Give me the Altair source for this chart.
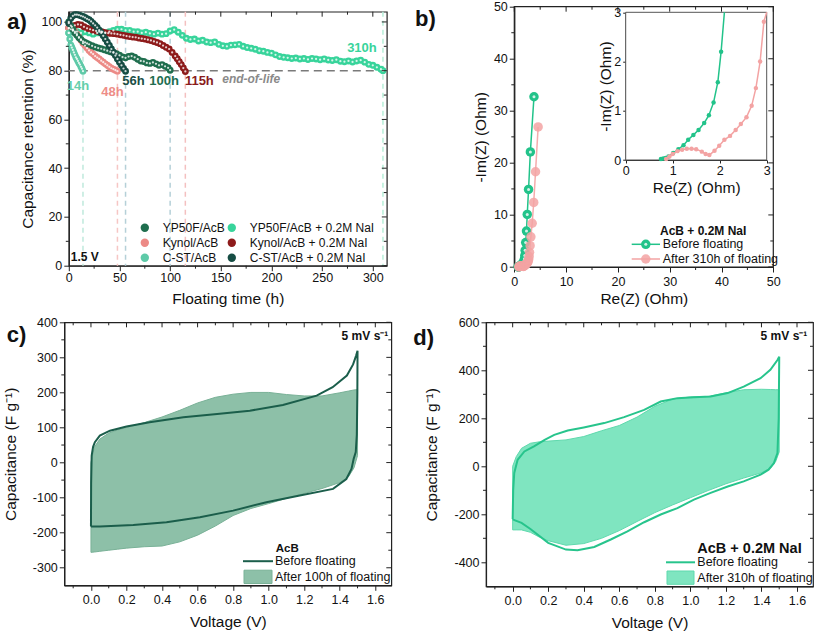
import altair as alt
import pandas as pd

FONT = "Liberation Sans"
ONE = pd.DataFrame({"k": [0]})
HYPHEN = "replace(datum.label, '\u2212', '-')"

# ======================= panel a data =======================
series_names = ["YP50F/AcB", "Kynol/AcB", "C-ST/AcB",
                "YP50F/AcB + 0.2M NaI", "Kynol/AcB + 0.2M NaI", "C-ST/AcB + 0.2M NaI"]
series_colors = ["#1f6e4e", "#ec8a86", "#5ecaa8", "#38d49b", "#8e1b1b", "#164d44"]

yp50f_t = [0, 2, 4, 6, 8, 10, 12, 14, 16, 18, 20, 23, 26, 29, 32, 35, 38, 41, 44, 47,
           50, 53, 56, 59, 62, 65, 68, 71, 74, 77, 80, 83, 86, 89, 92, 95, 98, 100]
yp50f_v = [100, 98.5, 97, 95.5, 94.5, 93.5, 92.8, 92, 91.6, 91.2, 90.8, 90.2, 89.7, 89.3, 89, 88.6, 88.2, 87.8, 87.4, 87,
           86.3, 85.6, 85.3, 85.8, 86, 85.5, 84.7, 84, 83.8, 83.2, 83, 83.4, 82.8, 82.2, 82.5, 81.8, 81.2, 80.2]

kynol_t = [0, 2, 4, 6, 8, 10, 12, 14, 16, 18, 20, 22, 24, 26, 28, 30, 32, 34, 36, 38, 40, 42, 44, 46, 48]
kynol_v = [97.5, 97, 96.5, 96, 95, 93.8, 92.5, 91.3, 90.3, 89.3, 88.3, 87.5, 86.8, 86, 85.4, 84.8, 84.1, 83.5,
           82.8, 82.2, 81.6, 81, 80.6, 80.2, 79.8]

cst_t = [0, 1, 2, 3, 4, 5, 6, 7, 8, 9, 10, 11, 12, 13, 14]
cst_v = [95.5, 93, 90.5, 89.5, 88.5, 87.5, 86.5, 85.5, 84.8, 84, 83.2, 82.5, 81.6, 80.8, 79.8]

yp50f_nai_t = [0, 4, 8, 12, 16, 20, 24, 28, 32, 36, 40, 44, 48, 52, 56, 60, 64, 68, 72, 76,
               80, 84, 88, 92, 96, 100, 104, 108, 112, 116, 120, 124, 128, 132, 136, 140, 144, 148, 152, 156,
               160, 164, 168, 172, 176, 180, 184, 188, 192, 196, 200, 204, 208, 212, 216, 220, 224, 228, 232, 236,
               240, 244, 248, 252, 256, 260, 264, 268, 272, 276, 280, 284, 288, 292, 296, 300, 304, 308, 310]
yp50f_nai_v = [95.5, 96.5, 96, 95.5, 96, 95.5, 95, 95.5, 96, 95.5,
               96, 96.5, 97, 97, 96.5, 96.5, 96, 96, 95.5, 95.8,
               95.3, 95, 95.4, 95, 95.2, 96.3, 96.8, 95.8, 94.5, 93.3,
               92.8, 93, 92.2, 92.5, 91.8, 91.5, 91.8, 90.8, 90.2, 90,
               90.5, 90.6, 90.8, 90, 89.5, 89.2, 88.8, 88.2, 88, 87.5,
               87.2, 86.5, 85.8, 85.5, 85.3, 85, 85.2, 84.8, 85, 84.6,
               85, 84.8, 84.5, 84.8, 84.4, 84.2, 84.5, 83.9, 83.7, 84,
               83.6, 84, 84.3, 83.5, 82.6, 82.2, 81.4, 80.6, 80]

kynol_nai_t = [0, 3, 6, 9, 12, 15, 18, 21, 24, 27, 30, 33, 36, 39, 42, 45, 48, 51, 54, 57,
               60, 63, 66, 69, 72, 75, 78, 81, 84, 87, 90, 93, 96, 99, 102, 105, 107, 109, 111, 113, 115]
kynol_nai_v = [97.5, 98, 98.6, 99, 98.8, 98, 97.4, 97, 96.6, 96.3, 96, 95.9, 95.6, 95.4, 95.3, 95.2, 95, 94.7, 94.5, 94.2,
               94, 93.8, 93.7, 93.4, 93.2, 93, 92.7, 92.4, 92, 91.6, 91.1, 90.3, 89.6, 88.9, 87.5, 86, 84.9, 83.7,
               82.5, 81.1, 79.7]

cst_nai_t = [0, 2, 4, 6, 8, 10, 12, 14, 16, 18, 20, 22, 24, 26, 28, 30, 32, 34, 36, 38,
             40, 42, 44, 46, 48, 50, 52, 54, 56]
cst_nai_v = [99.5, 101.5, 102.5, 103, 103, 102.8, 102.5, 102.2, 101.8, 101.3, 100.9, 100.2, 99.4, 98.6, 97.7,
             96.6, 95.5, 94.3, 93, 91.7, 90.3, 88.9, 87.6, 86.2, 84.8, 83.5, 82.2, 80.9, 79.8]

a_times = [yp50f_t, kynol_t, cst_t, yp50f_nai_t, kynol_nai_t, cst_nai_t]
a_values = [yp50f_v, kynol_v, cst_v, yp50f_nai_v, kynol_nai_v, cst_nai_v]

eol_times = [14, 48, 56, 100, 115, 310]
eol_labels = ["14h", "48h", "56h", "100h", "115h", "310h"]
eol_label_colors = ["#66cfac", "#ee8d88", "#1b4f46", "#216d50", "#8a1c1c", "#38d49b"]
eol_line_colors = ["#bfe9dc", "#f6c6c4", "#b5d0d8", "#b5d0d8", "#f4c0c0", "#b8efd9"]
eol_label_offsets = [(-5, 15.5), (-5, 21), (8, 10.5), (-6, 10.5), (14, 10.5), (-21, -22.5)]

a_xticks = [0, 50, 100, 150, 200, 250, 300]
a_xminor = [25, 75, 125, 175, 225, 275]
a_yticks = [0, 20, 40, 60, 80, 100]
a_yminor = [10, 30, 50, 70, 90]

# ======================= panel b data =======================
b_before_re = [0.75, 0.80, 0.85, 0.91, 1.01, 1.12, 1.23, 1.33, 1.44, 1.55,
               1.67, 1.77, 1.87, 1.96, 2.03, 2.10, 2.20, 2.35, 2.50, 2.75, 3.10, 3.80]
b_before_im = [0.02, 0.03, 0.04, 0.07, 0.14, 0.22, 0.30, 0.41, 0.51, 0.61,
               0.75, 0.91, 1.17, 1.58, 2.20, 3.20, 4.70, 6.90, 10.1, 14.9, 22.1, 32.7]
b_after_re = [0.86, 0.93, 1.00, 1.10, 1.20, 1.30, 1.40, 1.50, 1.62, 1.70,
              1.78, 1.89, 1.99, 2.10, 2.22, 2.34, 2.45, 2.57, 2.68, 2.77,
              2.86, 2.94, 3.05, 3.20, 3.45, 3.75, 4.10, 4.60]
b_after_im = [0.02, 0.07, 0.12, 0.18, 0.21, 0.23, 0.23, 0.22, 0.17, 0.12,
              0.10, 0.19, 0.29, 0.41, 0.49, 0.61, 0.73, 0.87, 1.10, 1.46,
              2.00, 2.81, 4.10, 5.80, 8.40, 12.4, 18.3, 26.9]
b_ticks = [0, 10, 20, 30, 40, 50]
b_minor = [5, 15, 25, 35, 45]
inset_ticks = [0, 1, 2, 3]

# ======================= panel c / d data =======================
cv_grid = [0, 0.02, 0.05, 0.1, 0.15, 0.2, 0.3, 0.4, 0.5, 0.6, 0.7, 0.8, 0.9, 1.0, 1.1, 1.2, 1.3, 1.4, 1.45, 1.48, 1.5]
c_after_up = [0, 45, 67, 84, 93, 100, 114, 130, 149, 170, 186, 195, 200, 200, 194, 190, 190, 199, 204, 207, 208]
c_after_lo = [-256, -255, -253, -250, -247, -244, -240, -238, -226, -207, -181, -151, -131, -117, -102, -88, -74, -57,
              -40, -15, 20]
c_before_v = [0, 0.001, 0.004, 0.012, 0.022, 0.05, 0.107, 0.2, 0.33, 0.52,
              0.71, 0.894, 1.08, 1.27, 1.36, 1.44, 1.475, 1.492, 1.5, 1.499,
              1.496, 1.49, 1.478, 1.466, 1.437, 1.362, 1.175, 0.987, 0.8, 0.613,
              0.425, 0.238, 0.05, 0.01, 0]
c_before_c = [-182, -60, 20, 45, 58, 77, 91, 103, 115, 129,
              138.5, 148, 164, 191, 215, 248, 280, 305, 319, 200,
              80, 30, 10, -18, -47, -75, -94, -113, -137, -156,
              -170, -178, -182, -182, -182]

d_after_up = [0, 40, 75, 96, 102, 105, 110, 124, 148, 170, 205, 250, 280, 289, 291, 306, 319, 321, 320, 319, 319]
d_after_lo = [-265, -265, -265, -275, -295, -310, -329, -322, -300, -268, -230, -193, -161, -131, -101, -73, -49, -27,
              -8, 20, 60]
d_before_v = [0, 0.003, 0.009, 0.028, 0.066, 0.12, 0.18, 0.234, 0.31, 0.4,
              0.515, 0.627, 0.74, 0.833, 0.927, 1.02, 1.114, 1.21, 1.3, 1.395,
              1.45, 1.49, 1.5, 1.497, 1.49, 1.47, 1.44, 1.395, 1.3, 1.21,
              1.114, 1.02, 0.927, 0.833, 0.74, 0.646, 0.552, 0.459, 0.365, 0.3,
              0.2, 0.1, 0.05, 0.01, 0]
d_before_c = [-220, -100, -28, 27, 62, 83, 110, 131, 149, 162,
              180, 205, 235, 270, 284, 288, 291, 305, 332, 367,
              402, 443, 457, 200, 55, 13, -14, -35, -63, -84,
              -111, -139, -174, -201, -233, -271, -305, -336, -350, -347,
              -319, -261, -236, -224, -220]

cv_xticks = [0.0, 0.2, 0.4, 0.6, 0.8, 1.0, 1.2, 1.4, 1.6]
cv_xminor = [-0.1, 0.1, 0.3, 0.5, 0.7, 0.9, 1.1, 1.3, 1.5]
c_yticks = [-300, -200, -100, 0, 100, 200, 300, 400]
c_yminor = [-250, -150, -50, 50, 150, 250, 350]
d_yticks = [-400, -200, 0, 200, 400, 600]
d_yminor = [-300, -100, 100, 300, 500]

# ======================= helpers =======================
TICK = "#222"


def tick_layers(xs, ys, xax, yax, xmaj, xmin, ymaj, ymin, x0, x1, y0, y1):
    def rx(vals, ya, yb):
        return alt.Chart(pd.DataFrame({"tv": vals})).mark_rule(color=TICK, strokeWidth=1).encode(
            x=alt.X("tv:Q", scale=xs, axis=xax), y=alt.value(ya), y2=alt.value(yb))

    def ry(vals, xa, xb):
        return alt.Chart(pd.DataFrame({"tv": vals})).mark_rule(color=TICK, strokeWidth=1).encode(
            y=alt.Y("tv:Q", scale=ys, axis=yax), x=alt.value(xa), x2=alt.value(xb))

    return [rx(xmaj, y0, y0 + 5), rx(xmin, y0, y0 + 3), rx(xmin, y1, y1 + 3),
            ry(ymaj, x1, x1 - 5), ry(ymin, x1, x1 - 3), ry(ymin, x0, x0 - 3)]


def txt(s, x, y, size=12, weight="normal", align="left", color="#111"):
    return alt.Chart(ONE).mark_text(text=s, fontSize=size, fontWeight=weight, align=align,
                                    baseline="middle", color=color, font=FONT).encode(
        x=alt.value(x), y=alt.value(y))


def hrule(x_a, x_b, y, color, w):
    return alt.Chart(ONE).mark_rule(color=color, strokeWidth=w).encode(
        x=alt.value(x_a), x2=alt.value(x_b), y=alt.value(y))


def box(x_a, x_b, y_a, y_b, fill, stroke):
    return alt.Chart(ONE).mark_rect(fill=fill, stroke=stroke, strokeWidth=1).encode(
        x=alt.value(x_a), x2=alt.value(x_b), y=alt.value(y_a), y2=alt.value(y_b))


# ======================= panel a =======================
A_W, A_H = 318, 254
a_xs = alt.Scale(domain=[0, 313.8], nice=False, zero=False)
a_ys = alt.Scale(domain=[0, 104.2], nice=False, zero=False)
a_xax = alt.Axis(values=a_xticks, title="Floating time (h)", labelPadding=1, titlePadding=7)
a_yax = alt.Axis(values=a_yticks, title="Capacitance retention (%)", labelPadding=2, titlePadding=5.5)

draw_order = [3, 4, 1, 2, 0, 5]
a_df = pd.concat([pd.DataFrame({"series": series_names[i], "t": a_times[i], "v": a_values[i]})
                  for i in draw_order], ignore_index=True)

a_layers = [
    alt.Chart(pd.DataFrame({"t": eol_times, "c": eol_line_colors})).mark_rule(
        strokeDash=[5, 4], strokeWidth=1.5).encode(
        x=alt.X("t:Q", scale=a_xs, axis=a_xax), stroke=alt.Stroke("c:N", scale=None)),
    alt.Chart(pd.DataFrame({"v": [80]})).mark_rule(strokeDash=[8, 5], strokeWidth=1.5, color="#7a7a7a").encode(
        y=alt.Y("v:Q", scale=a_ys, axis=a_yax)),
    alt.Chart(a_df).mark_circle(size=48, opacity=1).encode(
        x=alt.X("t:Q", scale=a_xs, axis=a_xax),
        y=alt.Y("v:Q", scale=a_ys, axis=a_yax),
        color=alt.Color("series:N", scale=alt.Scale(domain=series_names, range=series_colors),
                        legend=alt.Legend(orient="none", legendX=70, legendY=210, columns=2, title=None,
                                          symbolType="circle", symbolSize=70, labelFontSize=12,
                                          labelFont=FONT, labelOffset=12, columnPadding=-2, rowPadding=3,
                                          symbolStrokeWidth=0, symbolOpacity=1, padding=0,
                                          labelColor="#111"))),
    alt.Chart(a_df).mark_circle(size=5, color="white", opacity=0.8).encode(
        x=alt.X("t:Q", scale=a_xs, axis=a_xax), y=alt.Y("v:Q", scale=a_ys, axis=a_yax)),
]
for t, lab, col, (dx, dy) in zip(eol_times, eol_labels, eol_label_colors, eol_label_offsets):
    a_layers.append(alt.Chart(ONE).mark_text(text=lab, color=col, fontSize=13, fontWeight="bold",
                                             dx=dx, dy=dy, font=FONT).encode(
        x=alt.XDatum(t, scale=a_xs, axis=a_xax), y=alt.YDatum(80, scale=a_ys, axis=a_yax)))
a_layers.append(alt.Chart(ONE).mark_text(text="end-of-life", color="#8a8a8a", fontSize=12, fontWeight="bold",
                                         fontStyle="italic", dy=8, font=FONT).encode(
    x=alt.XDatum(180, scale=a_xs, axis=a_xax), y=alt.YDatum(80, scale=a_ys, axis=a_yax)))
a_layers.append(alt.Chart(ONE).mark_text(text="1.5 V", color="#111", fontSize=12, fontWeight="bold",
                                         align="left", font=FONT).encode(
    x=alt.XDatum(2, scale=a_xs, axis=a_xax), y=alt.YDatum(3.5, scale=a_ys, axis=a_yax)))
a_layers.append(txt("a)", -61.5, 10, size=22, weight="bold"))
a_layers += tick_layers(a_xs, a_ys, a_xax, a_yax, a_xticks, a_xminor, a_yticks, a_yminor, 0, A_W, 0, A_H)
panel_a = alt.layer(*a_layers).properties(width=A_W, height=A_H)

# ======================= panel b =======================
B_W, B_GH, B_H = 327, 264, 260.3     # view width, view height, plot height
BX0, BX1 = 28.3, 287.3
IX0, IX1 = 139.7, 280.7
IY0, IY1 = 153.3, 5.6
GREEN_B = "#22c38a"
PINK_B = "#f3a3a3"

b_xs = alt.Scale(domain=[0, 50], range=[BX0, BX1], nice=False, zero=False)
b_ys = alt.Scale(domain=[0, 50], range=[B_H, 0], nice=False, zero=False)
b_xax = alt.Axis(values=b_ticks, title="Re(Z) (Ohm)", offset=-(B_GH - B_H), labelPadding=3, titlePadding=4)
b_yax = alt.Axis(values=b_ticks, title="-Im(Z) (Ohm)", offset=-BX0, labelPadding=2, titlePadding=5)
in_xs = alt.Scale(domain=[0, 3], range=[IX0, IX1], nice=False, zero=False, clamp=True)
in_ys = alt.Scale(domain=[0, 3], range=[IY0, IY1], nice=False, zero=False, clamp=True)
in_xax = alt.Axis(orient="bottom", offset=-(B_GH - IY0), values=inset_ticks, title="Re(Z) (Ohm)", tickSize=3,
                  labelPadding=1, titlePadding=4)
in_yax = alt.Axis(orient="left", offset=-IX0, values=inset_ticks, title="-Im(Z) (Ohm)", tickSize=3,
                  labelPadding=2, titlePadding=0)

b_before = pd.DataFrame({"re": b_before_re, "im": b_before_im, "i": range(len(b_before_re))})
b_after = pd.DataFrame({"re": b_after_re, "im": b_after_im, "i": range(len(b_after_re))})


def upto_exit(df):
    keep = []
    for k in range(len(df)):
        keep.append(k)
        if df["re"].iloc[k] > 3 or df["im"].iloc[k] > 3:
            break
    return df.iloc[keep]


def bx(field="re:Q"):
    return alt.X(field, scale=b_xs, axis=b_xax)


def by(field="im:Q"):
    return alt.Y(field, scale=b_ys, axis=b_yax)


main_layers = [
    alt.Chart(ONE).mark_rect(fillOpacity=0, stroke="#222", strokeWidth=1.2).encode(
        x=alt.XDatum(0, scale=b_xs, axis=b_xax), x2=alt.datum(50),
        y=alt.YDatum(0, scale=b_ys, axis=b_yax), y2=alt.datum(50)),
    alt.Chart(b_before).mark_line(color=GREEN_B, strokeWidth=1.5).encode(x=bx(), y=by(), order="i:Q"),
    alt.Chart(b_before).mark_circle(color=GREEN_B, size=90, opacity=1).encode(x=bx(), y=by()),
    alt.Chart(b_before).mark_circle(color="white", size=9, opacity=0.8).encode(x=bx(), y=by()),
    alt.Chart(b_after).mark_line(color=PINK_B, strokeWidth=1.5, opacity=0.9).encode(x=bx(), y=by(), order="i:Q"),
    alt.Chart(b_after).mark_circle(color=PINK_B, size=90, opacity=0.85).encode(x=bx(), y=by()),
    # legend
    txt("AcB + 0.2M NaI", 174, 224.1, size=12, weight="bold"),
    hrule(145.7, 174, 237.6, GREEN_B, 1.5),
    alt.Chart(ONE).mark_circle(color=GREEN_B, size=90, opacity=1).encode(x=alt.value(159.8), y=alt.value(237.6)),
    alt.Chart(ONE).mark_circle(color="white", size=9, opacity=0.8).encode(x=alt.value(159.8), y=alt.value(237.6)),
    txt("Before floating", 176.7, 237.6, size=12.5),
    hrule(145.7, 174, 252.3, PINK_B, 1.5),
    alt.Chart(ONE).mark_circle(color=PINK_B, size=90, opacity=0.85).encode(x=alt.value(159.8), y=alt.value(252.3)),
    txt("After 310h of floating", 176.7, 252.3, size=12.5),
    txt("b)", -71, 12.5, size=22, weight="bold"),
]
main_layers += tick_layers(b_xs, b_ys, b_xax, b_yax, b_ticks, b_minor, b_ticks, b_minor, BX0, BX1, 0, B_H)
main_layer = alt.layer(*main_layers)

in_before = upto_exit(b_before)
in_after = upto_exit(b_after)
inside = "datum.re <= 3 && datum.im <= 3"


def ix():
    return alt.X("re:Q", scale=in_xs, axis=in_xax)


def iy():
    return alt.Y("im:Q", scale=in_ys, axis=in_yax)


inset_layers = [
    alt.Chart(ONE).mark_rect(fill="white", stroke="#555", strokeWidth=1).encode(
        x=alt.XDatum(0, scale=in_xs, axis=in_xax), x2=alt.datum(3),
        y=alt.YDatum(0, scale=in_ys, axis=in_yax), y2=alt.datum(3)),
    alt.Chart(in_before).mark_line(color=GREEN_B, strokeWidth=1.5).encode(x=ix(), y=iy(), order="i:Q"),
    alt.Chart(in_before).transform_filter(inside).mark_circle(color=GREEN_B, size=20, opacity=1).encode(
        x=ix(), y=iy()),
    alt.Chart(in_after).mark_line(color=PINK_B, strokeWidth=1.5).encode(x=ix(), y=iy(), order="i:Q"),
    alt.Chart(in_after).transform_filter(inside).mark_circle(color=PINK_B, size=20, opacity=1).encode(
        x=ix(), y=iy()),
]
inset_layer = alt.layer(*inset_layers)

panel_b = alt.layer(main_layer, inset_layer).resolve_scale(x="independent", y="independent").properties(
    width=B_W, height=B_GH, view=alt.ViewBackground(stroke="transparent"))


# ======================= panel c / d =======================
def cv_panel(W, H, ydom, yticks, yminor, up, lo, bv, bc, fill, fstroke, lcolor, leg_title, leg_title_size,
             after_label, label, lab_xy, rate_xy, leg):
    xs = alt.Scale(domain=[-0.15, 1.69], nice=False, zero=False)
    ys = alt.Scale(domain=ydom, nice=False, zero=False)
    xax = alt.Axis(values=cv_xticks, format=".1f", title="Voltage (V)", labelPadding=3, titlePadding=9)
    yax = alt.Axis(values=yticks, format="d", labelExpr=HYPHEN, title="Capacitance (F g⁻¹)",
                   labelPadding=2, titlePadding=14)
    adf = pd.DataFrame({"v": cv_grid, "up": up, "lo": lo})
    bdf = pd.DataFrame({"v": bv, "c": bc, "i": range(len(bv))})
    layers = [
        alt.Chart(adf).mark_area(fill=fill, stroke=fstroke, strokeWidth=1, fillOpacity=1).encode(
            x=alt.X("v:Q", scale=xs, axis=xax), y=alt.Y("up:Q", scale=ys, axis=yax), y2="lo:Q"),
        alt.Chart(bdf).mark_line(color=lcolor, strokeWidth=2).encode(
            x=alt.X("v:Q", scale=xs, axis=xax), y=alt.Y("c:Q", scale=ys, axis=yax), order="i:Q"),
        txt("5 mV s⁻¹", rate_xy[0], rate_xy[1], size=12, weight="bold", align="right"),
        txt(leg_title, leg["tx"], leg["ty"], size=leg_title_size, weight="bold"),
        hrule(leg["lx0"], leg["lx1"], leg["ly"], lcolor, 2),
        txt("Before floating", leg["tx2"], leg["ly"], size=12.5),
        box(leg["lx0"] + 1, leg["lx1"] - 1, leg["ry0"], leg["ry1"], fill, fstroke),
        txt(after_label, leg["tx2"], (leg["ry0"] + leg["ry1"]) / 2, size=12.5),
        txt(label, lab_xy[0], lab_xy[1], size=22, weight="bold"),
    ]
    layers += tick_layers(xs, ys, xax, yax, cv_xticks, cv_xminor, yticks, yminor, 0, W, 0, H)
    return alt.layer(*layers).properties(width=W, height=H)


panel_c = cv_panel(327, 263, [-350, 400], c_yticks, c_yminor, c_after_up, c_after_lo, c_before_v, c_before_c,
                   "#8dc0a8", "#79b197", "#1b5e4b", "AcB", 11.5, "After 100h of floating", "c)",
                   (-57.6, 12.2), (324, 13.2),
                   dict(tx=211.5, ty=226.2, lx0=178.7, lx1=208.7, ly=238.9, tx2=210.7, ry0=247.9, ry1=261.2))
panel_d = cv_panel(327, 264, [-500, 600], d_yticks, d_yminor, d_after_up, d_after_lo, d_before_v, d_before_c,
                   "#7fe5c0", "#5fd9ad", "#27c48c", "AcB + 0.2M NaI", 14.5, "After 310h of floating", "d)",
                   (-72.7, 15.7), (321.3, 13.5),
                   dict(tx=211.3, ty=226.4, lx0=180, lx1=209, ly=240, tx2=211.3, ry0=248.7, ry1=262))

# ======================= assemble =======================
chart = alt.concat(panel_a, panel_b, panel_c, panel_d, columns=2,
                   spacing={"row": 51.6, "column": 94.7}, bounds="flush", center=True
                   ).resolve_scale(color="independent").properties(
    autosize=alt.AutoSizeParams(type="none"),
    padding={"left": 64.3, "top": 6.7, "right": 817 - 64.3, "bottom": 634 - 6.7},
).configure_view(stroke="#222", strokeWidth=1.2).configure_axis(
    labelFont=FONT, titleFont=FONT, labelFontSize=12.5, titleFontSize=15.5, titleFontWeight="normal",
    labelColor="#111", titleColor="#111", domainColor="#222", tickColor="#222", grid=False,
    tickSize=5, labelFlush=False, labelOverlap=False, domainWidth=1.2
).configure_text(font=FONT).configure_legend(labelFont=FONT)

chart.save("out.html", embed_options={"renderer": "svg", "actions": False})
